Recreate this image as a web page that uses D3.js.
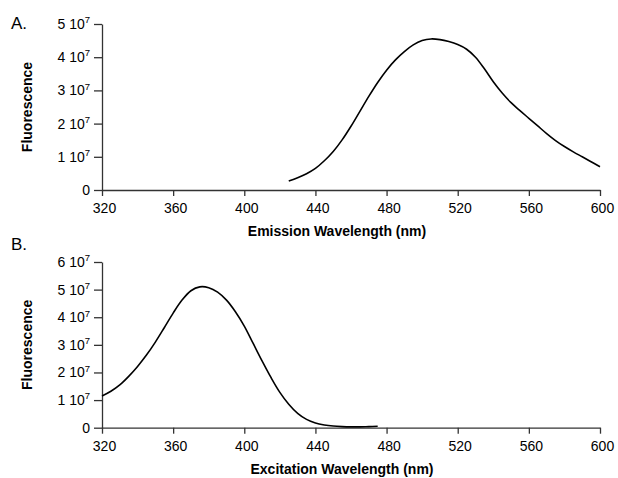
<!DOCTYPE html>
<html>

<head>
    <meta charset="UTF-8">
    <script src="https://cdn.jsdelivr.net/npm/d3@7/dist/d3.min.js"></script>
    <style>
        body {
            margin: 0;
            background-color: #ffffff;
        }

        svg text {
            font-family: "Liberation Sans", Arial, Helvetica, sans-serif;
            fill: #000;
        }
    </style>
</head>

<body>
    <div id="container"></div>

    <script type="text/javascript">
        // 发射光谱 (A)
        const emissionWavelength = [425, 430, 435, 440, 445, 450, 455, 460, 465, 470, 475, 480, 485, 490, 495,
            500, 505, 510, 515, 520, 525, 530, 535, 540, 545, 550, 555, 560, 565, 570, 575, 580, 585, 590, 595, 600]
        const emissionValue = [0.27, 0.37, 0.49, 0.65, 0.88, 1.16, 1.51, 1.92, 2.37, 2.82, 3.24, 3.61, 3.92, 4.17, 4.37,
            4.50, 4.55, 4.53, 4.47, 4.38, 4.24, 4.00, 3.65, 3.26, 2.92, 2.63, 2.39, 2.16, 1.93, 1.70, 1.49, 1.31, 1.15, 1.00, 0.85, 0.70]

        // 激发光谱 (B)
        const excitationWavelength = [320, 325, 330, 335, 340, 345, 350, 355, 360, 365, 370, 375, 380, 385, 390, 395,
            400, 405, 410, 415, 420, 425, 430, 435, 440, 445, 450, 455, 460, 465, 470, 475]
        const excitationValue = [1.15, 1.32, 1.55, 1.86, 2.22, 2.63, 3.10, 3.62, 4.15, 4.62, 4.96, 5.10, 5.07, 4.91, 4.62, 4.20,
            3.68, 3.05, 2.42, 1.82, 1.28, 0.85, 0.52, 0.30, 0.17, 0.10, 0.06, 0.04, 0.03, 0.03, 0.04, 0.05]

        // 刻度 (荧光值单位 10^7)
        const wavelengthTicks = [320, 360, 400, 440, 480, 520, 560, 600]
        const emissionYTicks = [0, 1, 2, 3, 4, 5]
        const excitationYTicks = [0, 1, 2, 3, 4, 5, 6]

        const width = 618
        const height = 478

        const svg = d3.select("#container")
            .append("svg")
            .attr("width", width)
            .attr("height", height)

        const xScale = d3.scaleLinear()
            .domain([320, 600])
            .range([102, 600])

        function drawPanel(opts) {
            const yScale = d3.scaleLinear()
                .domain([0, d3.max(opts.yTicks)])
                .range([opts.bottom, opts.top])

            const g = svg.append("g")

            // x轴
            const gx = g.append("g")
                .attr("transform", `translate(0, ${opts.bottom})`)
                .call(d3.axisBottom(xScale).tickValues(wavelengthTicks).tickSize(6).tickSizeOuter(0).tickPadding(7))
            gx.selectAll("text")
                .attr("dx", 2)
                .style("font-size", "14px")

            // y轴
            const gy = g.append("g")
                .attr("transform", `translate(${xScale.range()[0]}, 0)`)
                .call(d3.axisLeft(yScale).tickValues(opts.yTicks).tickSize(8).tickSizeOuter(0).tickPadding(4))
            gy.selectAll(".tick text")
                .style("font-size", "14px")
                .each(function (d) {
                    const t = d3.select(this).text(null)
                    if (d === 0) {
                        t.text("0")
                        return
                    }
                    t.append("tspan").text(d + " 10")
                    t.append("tspan")
                        .attr("dy", "-0.6em")
                        .style("font-size", "9.5px")
                        .text("7")
                })

            g.selectAll(".domain, .tick line")
                .attr("stroke", "#333")
                .attr("stroke-width", 1.3)

            // 曲线
            const pathLine = d3.line()
                .curve(d3.curveCatmullRom)
                .x((d, i) => xScale(opts.xs[i]))
                .y(d => yScale(d))

            g.append("path")
                .attr("d", pathLine(opts.ys))
                .attr("stroke", "#000")
                .attr("stroke-width", 1.6)
                .attr("fill", "none")

            // 坐标轴标题
            g.append("text")
                .attr("x", opts.titleX)
                .attr("y", opts.bottom + 46)
                .attr("text-anchor", "middle")
                .style("font-size", "14px")
                .style("font-weight", "bold")
                .text(opts.xTitle)

            g.append("text")
                .attr("transform", `translate(31.5, ${(opts.top + opts.bottom) / 2}) rotate(-90)`)
                .attr("text-anchor", "middle")
                .style("font-size", "14px")
                .style("font-weight", "bold")
                .text("Fluorescence")

            g.append("text")
                .attr("x", 11)
                .attr("y", opts.labelY)
                .style("font-size", "17px")
                .text(opts.label)
        }

        drawPanel({
            xs: emissionWavelength,
            ys: emissionValue,
            yTicks: emissionYTicks,
            top: 24,
            bottom: 190,
            titleX: 337,
            xTitle: "Emission Wavelength (nm)",
            label: "A.",
            labelY: 29
        })

        drawPanel({
            xs: excitationWavelength,
            ys: excitationValue,
            yTicks: excitationYTicks,
            top: 262,
            bottom: 427.7,
            titleX: 342,
            xTitle: "Excitation Wavelength (nm)",
            label: "B.",
            labelY: 250
        })
    </script>
</body>

</html>
